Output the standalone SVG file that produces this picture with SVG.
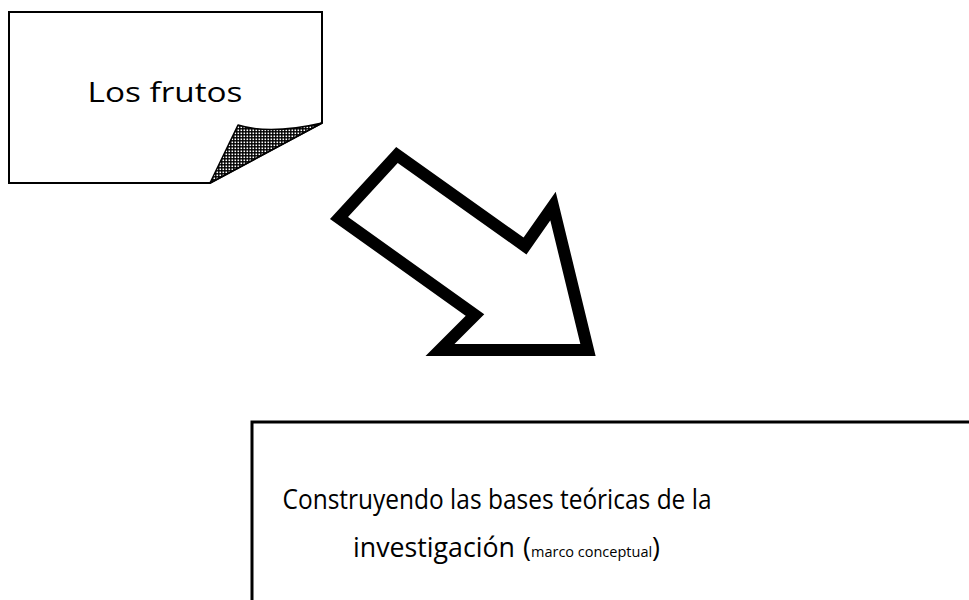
<svg xmlns="http://www.w3.org/2000/svg" width="969" height="600" viewBox="0 0 969 600">
<style>
.t{font-family:"Open Sans","Liberation Sans",sans-serif;fill:#000}
.ln{fill:none;stroke:#000;stroke-linejoin:miter}
</style>
<defs>
<pattern id="chk" width="3" height="3" patternUnits="userSpaceOnUse">
<rect width="3" height="3" fill="#000"/>
<rect x="0.5" y="0.5" width="1.6" height="1.6" fill="#fff"/>
</pattern>
</defs>
<rect width="969" height="600" fill="#fff"/>
<g id="note">
<path class="ln" d="M9,12 L322,12 L322,123 L210,183 L9,183 Z" fill="#fff" stroke-width="2"/>
<path d="M322,123 Q270,135 238,125 L210,183 Z" fill="url(#chk)" stroke="#000" stroke-width="1.5" stroke-linejoin="round"/>
<text class="t" x="165" y="102" font-size="28" text-anchor="middle" textLength="155" lengthAdjust="spacingAndGlyphs">Los frutos</text>
</g>
<g id="connectors">
<polygon class="ln" points="397,155 339,218 475,315 440,350 588,350 553,206 525,246" stroke-width="12"/>
</g>
<g id="box">
<path class="ln" d="M252,600 L252,422 L969,422" stroke-width="3"/>
<text class="t" x="497" y="509" font-size="27" text-anchor="middle" textLength="429" lengthAdjust="spacingAndGlyphs">Construyendo las bases teóricas de la</text>
<text class="t" x="353" y="557" font-size="27"><tspan textLength="162" lengthAdjust="spacingAndGlyphs">investigación</tspan><tspan x="523">(</tspan><tspan font-size="14.5">marco conceptual</tspan>)</text>
</g>
</svg>
